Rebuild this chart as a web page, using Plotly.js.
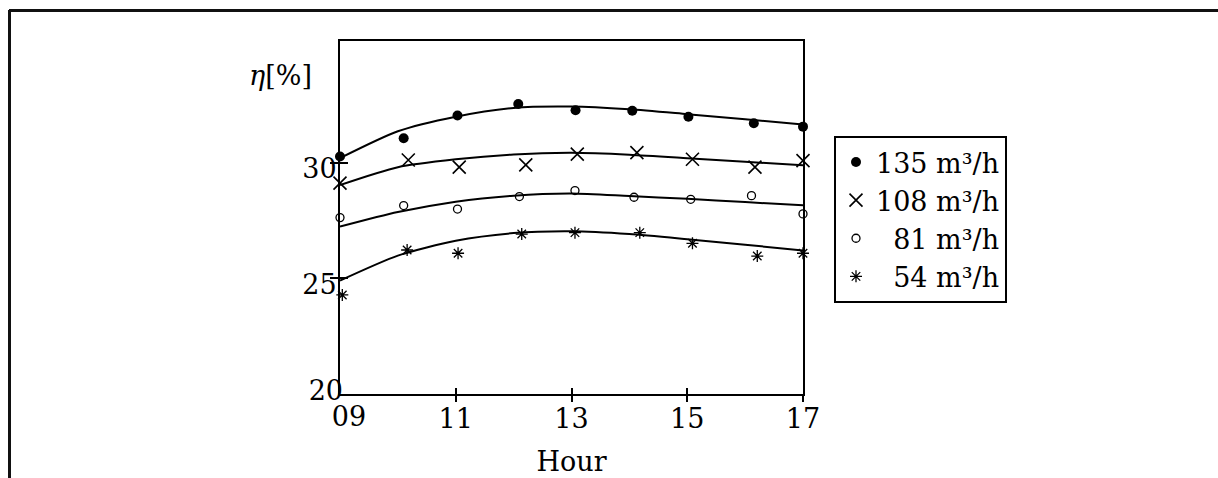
<!DOCTYPE html>
<html>
<head>
<meta charset="utf-8">
<script src="https://cdn.plot.ly/plotly-3.0.1.min.js"></script>
<style>html,body{margin:0;padding:0;background:#fff;}#chart{width:1218px;height:478px;}</style>
</head>
<body>
<div id="chart"></div>
<script>
// ---- data ----
const seriesNames = ['135 m³/h', '108 m³/h', '\u00a0\u00a081 m³/h', '\u00a0\u00a054 m³/h'];

const hours135 = [9, 10.1, 11.03, 12.08, 13.07, 14.05, 15.02, 16.15, 17];
const eta135   = [30.26, 31.05, 32.03, 32.53, 32.26, 32.24, 31.98, 31.70, 31.55];
const hours108 = [9, 10.18, 11.06, 12.21, 13.1, 14.13, 15.09, 16.17, 17];
const eta108   = [29.11, 30.11, 29.80, 29.90, 30.36, 30.43, 30.14, 29.80, 30.08];
const hours81  = [9, 10.1, 11.03, 12.1, 13.06, 14.08, 15.06, 16.11, 17];
const eta81    = [27.62, 28.14, 27.99, 28.53, 28.79, 28.50, 28.41, 28.57, 27.78];
const hours54  = [9.04, 10.16, 11.04, 12.14, 13.06, 14.18, 15.09, 16.21, 17];
const eta54    = [24.28, 26.22, 26.08, 26.91, 26.97, 26.97, 26.51, 25.96, 26.08];

// fitted curves read at each whole hour
const fitHours = [9, 10, 11, 12, 13, 14, 15, 16, 17];
const fit135 = [30.19, 31.35, 31.98, 32.36, 32.42, 32.30, 32.09, 31.87, 31.64];
const fit108 = [29.03, 29.80, 30.14, 30.35, 30.42, 30.34, 30.19, 30.03, 29.88];
const fit81  = [27.23, 27.86, 28.31, 28.57, 28.66, 28.55, 28.43, 28.29, 28.15];
const fit54  = [24.90, 25.98, 26.62, 26.95, 27.03, 26.91, 26.69, 26.45, 26.20];

const xTickVals = [9, 11, 13, 15, 17];
const xTickText = ['09', '11', '13', '15', '17'];
const yTickVals = [20, 25, 30];
const yTickText = ['20', '25', '30'];

// ---- styling ----
const FONT = 'DejaVu Serif, Liberation Serif, serif';
const FS = 27;
const TF = {family: FONT, size: FS, color: '#000'};
const markerStyles = [
  {symbol: 'circle', size: 10, color: '#000', line: {width: 0}},
  {symbol: 'x-thin-open', size: 13, color: '#000', line: {width: 1.6, color: '#000'}},
  {symbol: 'circle-open', size: 8, color: '#000', line: {width: 1.3, color: '#000'}},
  {symbol: 'asterisk-open', size: 10, color: '#000', line: {width: 1.3, color: '#000'}}
];
const ptsX = [hours135, hours108, hours81, hours54];
const ptsY = [eta135, eta108, eta81, eta54];
const fits = [fit135, fit108, fit81, fit54];

const traces = [];
fits.forEach(f => traces.push({
  x: fitHours, y: f, type: 'scatter', mode: 'lines',
  line: {color: '#000', width: 2, shape: 'spline', smoothing: 0.7},
  showlegend: false, hoverinfo: 'skip', cliponaxis: false
}));
seriesNames.forEach((n, i) => traces.push({
  x: ptsX[i], y: ptsY[i], type: 'scatter', mode: 'markers', name: n,
  marker: markerStyles[i], cliponaxis: false
}));
// empty traces hosting the overlay axes (outward tick marks, corner labels)
traces.push({x: [], y: [], xaxis: 'x2', yaxis: 'y2', type: 'scatter', showlegend: false, hoverinfo: 'skip'});
traces.push({x: [], y: [], xaxis: 'x3', yaxis: 'y3', type: 'scatter', showlegend: false, hoverinfo: 'skip'});

const L = 340, R = 803, T = 41, B = 394, W = 1218, H = 478;
const pw = R - L, ph = B - T;
const px = v => (v - L) / pw;
const py = v => (B - v) / ph;
const XR = [9, 17], YR = [20, 35.25];
const bare = {showline: false, showgrid: false, zeroline: false};

const layout = {
  width: W, height: H,
  margin: {l: L, r: W - R, t: T, b: H - B, pad: 0},
  paper_bgcolor: '#fff', plot_bgcolor: '#fff',
  font: TF,
  showlegend: true,
  legend: {
    x: px(834), y: py(136), xanchor: 'left', yanchor: 'top',
    bordercolor: '#000', borderwidth: 2, bgcolor: '#fff',
    font: TF, itemwidth: 30, tracegroupgap: 0
  },
  xaxis: {
    range: XR, tickvals: xTickVals.slice(1), ticktext: xTickText.slice(1),
    ticks: 'inside', ticklen: 6, tickwidth: 2, tickcolor: '#000',
    showline: true, linewidth: 2, linecolor: '#000', mirror: true,
    showgrid: false, zeroline: false, tickfont: TF,
    title: {text: 'Hour', font: TF, standoff: 19}
  },
  yaxis: {
    range: YR, tickvals: yTickVals.slice(1), ticktext: yTickText.slice(1),
    ticks: 'inside', ticklen: 8, tickwidth: 2, tickcolor: '#000',
    showline: true, linewidth: 2, linecolor: '#000', mirror: true,
    showgrid: false, zeroline: false, ticklabelshift: 6, ticklabelstandoff: -4,
    tickfont: TF
  },
  xaxis2: Object.assign({
    overlaying: 'x', anchor: 'y2', range: XR, tickvals: xTickVals.slice(1),
    ticks: 'outside', ticklen: 7, tickwidth: 2, tickcolor: '#000', showticklabels: false
  }, bare),
  yaxis2: Object.assign({
    overlaying: 'y', anchor: 'x2', side: 'left', range: YR, tickvals: yTickVals.slice(1),
    ticks: 'outside', ticklen: 9, tickwidth: 2, tickcolor: '#000', showticklabels: false
  }, bare),
  xaxis3: Object.assign({
    overlaying: 'x', anchor: 'y3', range: XR, tickvals: xTickVals.slice(0, 1), ticktext: xTickText.slice(0, 1),
    ticks: '', ticklabelshift: 9, ticklabelstandoff: 4, tickfont: TF
  }, bare),
  yaxis3: Object.assign({
    overlaying: 'y', anchor: 'x3', side: 'left', range: YR, tickvals: yTickVals.slice(0, 1), ticktext: yTickText.slice(0, 1),
    ticks: '', ticklabelshift: -3, ticklabelstandoff: -4, tickfont: TF
  }, bare),
  annotations: [{
    xref: 'paper', yref: 'paper', x: px(280), y: py(75),
    xanchor: 'center', yanchor: 'middle', showarrow: false,
    text: '<i>η</i>[%]', font: TF
  }],
  shapes: [
    {type: 'line', xref: 'paper', yref: 'paper', x0: px(9), x1: px(1218), y0: py(10.5), y1: py(10.5), line: {color: '#111', width: 3}},
    {type: 'line', xref: 'paper', yref: 'paper', x0: px(9.5), x1: px(9.5), y0: py(10), y1: py(478), line: {color: '#111', width: 3}}
  ]
};

Plotly.newPlot('chart', traces, layout, {displayModeBar: false, staticPlot: true});
</script>
</body>
</html>
